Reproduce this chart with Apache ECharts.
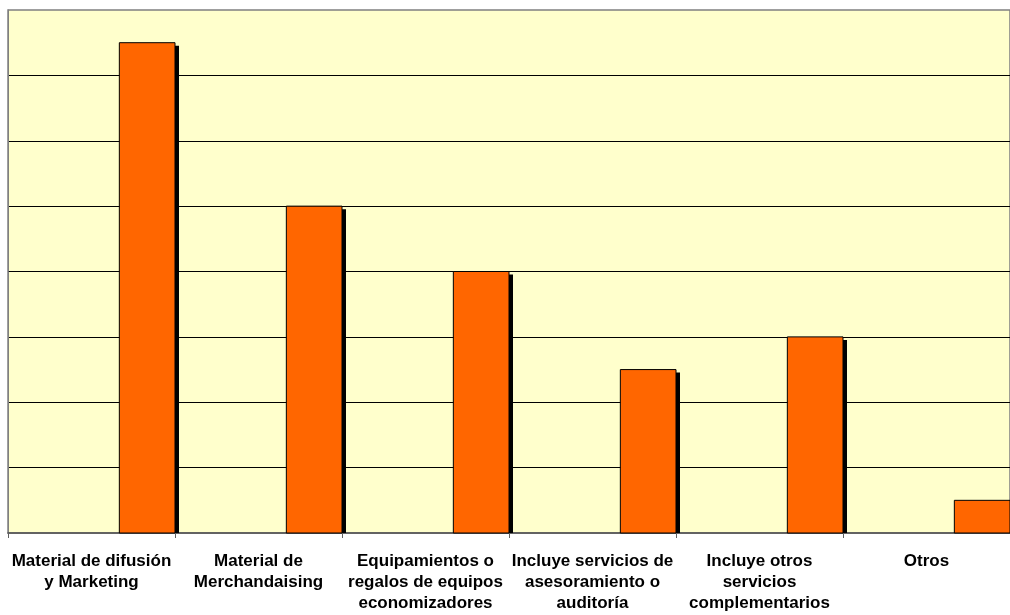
<!DOCTYPE html>
<html>
<head>
<meta charset="utf-8">
<script src="https://cdn.jsdelivr.net/npm/echarts@6/dist/echarts.min.js"></script>
<style>
html,body{margin:0;padding:0;background:#fff;}
#c{width:1010px;height:615px;}
</style>
</head>
<body>
<div id="c"></div>
<script>
var categories = [
  "Material de difusión\ny Marketing",
  "Material de\nMerchandaising",
  "Equipamientos o\nregalos de equipos\neconomizadores",
  "Incluye servicios de\nasesoramiento o\nauditoría",
  "Incluye otros\nservicios\ncomplementarios",
  "Otros"
];
var values = [7.5, 5, 4, 2.5, 3, 0.5];
var yMin = 0, yMax = 8, yStep = 1;

var seriesData = values.map(function (v, i) { return [i, v]; });

var chart = echarts.init(document.getElementById('c'), null, {renderer: 'canvas'});

function renderBar(params, api) {
  var idx = api.value(0);
  var base = api.coord([idx, 0]);
  var top = api.coord([idx, api.value(1)]);
  var band = api.size([1, 0])[0];
  var w = band / 3;
  var left = base[0] + band / 6;
  var h = base[1] - top[1];
  return {
    type: 'group',
    children: [
      {
        type: 'rect',
        shape: {x: left + 4, y: top[1] + 3, width: w, height: Math.max(h - 3, 0)},
        style: {fill: '#000000'}
      },
      {
        type: 'rect',
        shape: {x: left, y: top[1], width: w, height: h},
        style: {fill: '#FF6600', stroke: '#000000', lineWidth: 1}
      }
    ]
  };
}

chart.setOption({
  animation: false,
  backgroundColor: '#ffffff',
  grid: {
    left: 8, top: 10, right: -2, bottom: 82,
    show: true,
    backgroundColor: '#FFFFCC',
    borderColor: '#808080',
    borderWidth: 1.5
  },
  xAxis: {
    type: 'category',
    data: categories,
    boundaryGap: true,
    axisLine: {show: true, lineStyle: {color: '#505050', width: 1.5}},
    axisTick: {show: true, length: 5, lineStyle: {color: '#606060'}},
    axisLabel: {
      interval: 0,
      color: '#000000',
      fontFamily: 'Liberation Sans, Arial, sans-serif',
      fontWeight: 'bold',
      fontSize: 17,
      lineHeight: 21,
      margin: 18
    }
  },
  yAxis: {
    type: 'value',
    min: yMin, max: yMax, interval: yStep,
    axisLine: {show: true, lineStyle: {color: '#808080'}},
    axisTick: {show: false},
    axisLabel: {show: false},
    splitLine: {show: true, showMinLine: false, showMaxLine: false, lineStyle: {color: '#000000', width: 1}}
  },
  series: [
    {
      type: 'custom',
      renderItem: renderBar,
      encode: {x: 0, y: 1},
      data: seriesData,
      clip: false
    }
  ]
});
</script>
</body>
</html>
